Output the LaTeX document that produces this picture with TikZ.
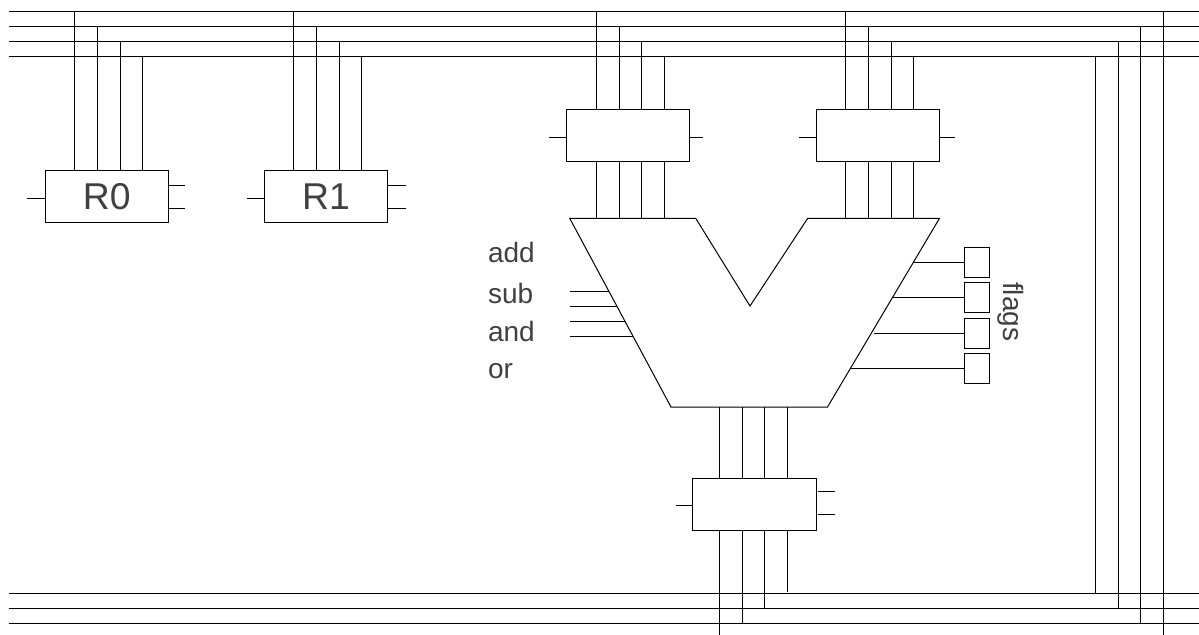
\documentclass[tikz,border=0pt]{standalone}
\usepackage{fontspec}
\setmainfont{Liberation Sans}
\definecolor{labelgray}{RGB}{64, 64, 64}
\tikzset{
	regbox/.style = {draw, rectangle, inner sep = 0pt, outer sep = 0pt, minimum width = 92.6pt, minimum height = 39.2pt, text = labelgray, font = \fontsize{28}{28}\selectfont},
	flagbox/.style = {draw, rectangle, inner sep = 0pt, outer sep = 0pt, minimum width = 18.4pt, minimum height = 22.5pt},
	oplabel/.style = {anchor = base west, inner sep = 0pt, text = labelgray, font = \fontsize{21}{21}\selectfont}
}

\begin{document}
\begin{tikzpicture}[x = 0.75pt, y = -0.75pt, line width = 0.75pt]
	\useasboundingbox (0,0) rectangle (1199,635);
	% boxes
	\node (r0) at (106.8,196.4) [regbox] {R0};
	\node (r1) at (326,196.4) [regbox] {R1};
	\node (la) at (628.2,135.8) [regbox] {};
	\node (lb) at (878,135.8) [regbox] {};
	\node (lc) at (754.5,504.6) [regbox] {};
	\node (f1) at (977,262.3) [flagbox] {};
	\node (f2) at (977,297.5) [flagbox] {};
	\node (f3) at (977,333) [flagbox] {};
	\node (f4) at (977,368.3) [flagbox] {};
	% labels
	\node (add) at (487.5,262.5) [oplabel] {add};
	\node (sub) at (487.5,303) [oplabel] {sub};
	\node (and) at (487.5,341.5) [oplabel] {and};
	\node (or) at (487.5,378.5) [oplabel] {or};
	\node (flags) at (1003.5,281.5) [oplabel, rotate = -90] {flags};
	% top bus
	\coordinate (t1l) at (9,11.3);
	\coordinate (t2l) at (9,26.3);
	\coordinate (t3l) at (9,41.3);
	\coordinate (t4l) at (9,56.7);
	\coordinate (t1r) at (1199,11.3);
	\coordinate (t2r) at (1199,26.3);
	\coordinate (t3r) at (1199,41.3);
	\coordinate (t4r) at (1199,56.7);
	\draw (t1l) -- (t1r);
	\draw (t2l) -- (t2r);
	\draw (t3l) -- (t3r);
	\draw (t4l) -- (t4r);
	% bottom bus
	\coordinate (b1l) at (9,593.7);
	\coordinate (b2l) at (9,608.5);
	\coordinate (b3l) at (9,623.5);
	\coordinate (b1r) at (1199,593.7);
	\coordinate (b2r) at (1199,608.5);
	\coordinate (b3r) at (1199,623.5);
	\draw (b1l) -- (b1r);
	\draw (b2l) -- (b2r);
	\draw (b3l) -- (b3r);
	% register R0
	\coordinate (r0a) at (74.7,12);
	\coordinate (r0b) at (97.3,27);
	\coordinate (r0c) at (120,42);
	\coordinate (r0d) at (142.7,57);
	\draw (r0a) -- (r0a |- r0.north);
	\draw (r0b) -- (r0b |- r0.north);
	\draw (r0c) -- (r0c |- r0.north);
	\draw (r0d) -- (r0d |- r0.north);
	\coordinate (r0in) at (27,198);
	\coordinate (r0o1) at (184.5,185.5);
	\coordinate (r0o2) at (184.5,208);
	\draw (r0in) -- (r0in -| r0.west);
	\draw (r0o1) -- (r0o1 -| r0.east);
	\draw (r0o2) -- (r0o2 -| r0.east);
	% register R1
	\coordinate (r1a) at (293.7,12);
	\coordinate (r1b) at (316.3,27);
	\coordinate (r1c) at (339,42);
	\coordinate (r1d) at (361.7,57);
	\draw (r1a) -- (r1a |- r1.north);
	\draw (r1b) -- (r1b |- r1.north);
	\draw (r1c) -- (r1c |- r1.north);
	\draw (r1d) -- (r1d |- r1.north);
	\coordinate (r1in) at (246.7,198);
	\coordinate (r1o1) at (406,185.5);
	\coordinate (r1o2) at (406,208);
	\draw (r1in) -- (r1in -| r1.west);
	\draw (r1o1) -- (r1o1 -| r1.east);
	\draw (r1o2) -- (r1o2 -| r1.east);
	% alu outline
	\coordinate (alu1) at (569.7,218.3);
	\coordinate (alu2) at (695.7,218.3);
	\coordinate (alu3) at (750,306);
	\coordinate (alu4) at (807.7,218.3);
	\coordinate (alu5) at (939.5,218.3);
	\coordinate (alu6) at (827.5,407);
	\coordinate (alu7) at (671,407);
	\draw (alu1) -- (alu2) -- (alu3) -- (alu4) -- (alu5) -- (alu6) -- (alu7) -- cycle;
	% latch A
	\coordinate (laa) at (596.3,12);
	\coordinate (lab) at (619,27);
	\coordinate (lac) at (641.5,42);
	\coordinate (lad) at (664.3,57);
	\draw (laa) -- (laa |- la.north);
	\draw (lab) -- (lab |- la.north);
	\draw (lac) -- (lac |- la.north);
	\draw (lad) -- (lad |- la.north);
	\draw (laa |- la.south) -- (laa |- alu1);
	\draw (lab |- la.south) -- (lab |- alu1);
	\draw (lac |- la.south) -- (lac |- alu1);
	\draw (lad |- la.south) -- (lad |- alu1);
	\coordinate (lain) at (549,137.3);
	\coordinate (laout) at (702.7,137.3);
	\draw (lain) -- (lain -| la.west);
	\draw (laout) -- (laout -| la.east);
	% latch B
	\coordinate (lba) at (845.7,12);
	\coordinate (lbb) at (868.3,27);
	\coordinate (lbc) at (891,42);
	\coordinate (lbd) at (913.7,57);
	\draw (lba) -- (lba |- lb.north);
	\draw (lbb) -- (lbb |- lb.north);
	\draw (lbc) -- (lbc |- lb.north);
	\draw (lbd) -- (lbd |- lb.north);
	\draw (lba |- lb.south) -- (lba |- alu1);
	\draw (lbb |- lb.south) -- (lbb |- alu1);
	\draw (lbc |- lb.south) -- (lbc |- alu1);
	\draw (lbd |- lb.south) -- (lbd |- alu1);
	\coordinate (lbin) at (799,137.3);
	\coordinate (lbout) at (955,137.3);
	\draw (lbin) -- (lbin -| lb.west);
	\draw (lbout) -- (lbout -| lb.east);
	% latch C
	\coordinate (lca) at (719.3,634.5);
	\coordinate (lcb) at (742,624);
	\coordinate (lcc) at (764.7,608.5);
	\coordinate (lcd) at (787.3,591.5);
	\draw (lca |- alu7) -- (lca |- lc.north);
	\draw (lcb |- alu7) -- (lcb |- lc.north);
	\draw (lcc |- alu7) -- (lcc |- lc.north);
	\draw (lcd |- alu7) -- (lcd |- lc.north);
	\draw (lca) -- (lca |- lc.south);
	\draw (lcb) -- (lcb |- lc.south);
	\draw (lcc) -- (lcc |- lc.south);
	\draw (lcd) -- (lcd |- lc.south);
	\coordinate (lcin) at (676,505);
	\coordinate (lco1) at (835,491.7);
	\coordinate (lco2) at (835,514.3);
	\draw (lcin) -- (lcin -| lc.west);
	\draw (lco1) -- ++(-17.3,0);
	\draw (lco2) -- ++(-17.3,0);
	% return lines
	\coordinate (ret1t) at (1095.3,57);
	\coordinate (ret2t) at (1118,42);
	\coordinate (ret3t) at (1140.5,27);
	\coordinate (ret4t) at (1163.3,12);
	\coordinate (ret1b) at (1095.3,593.7);
	\coordinate (ret2b) at (1118,608.5);
	\coordinate (ret3b) at (1140.5,623.5);
	\coordinate (ret4b) at (1163.3,634.5);
	\draw (ret1t) -- (ret1b);
	\draw (ret2t) -- (ret2b);
	\draw (ret3t) -- (ret3b);
	\draw (ret4t) -- (ret4b);
	% flag lines
	\coordinate (fl1) at (913,262.3);
	\coordinate (fl2) at (892.5,297.5);
	\coordinate (fl3) at (874,333);
	\coordinate (fl4) at (850,368.3);
	\draw (fl1) -- (f1.west);
	\draw (fl2) -- (f2.west);
	\draw (fl3) -- (f3.west);
	\draw (fl4) -- (f4.west);
	% opcode lines
	\coordinate (op1l) at (570,291);
	\coordinate (op2l) at (570,306.3);
	\coordinate (op3l) at (570,321);
	\coordinate (op4l) at (570,336.3);
	\coordinate (op1r) at (608.7,291);
	\coordinate (op2r) at (616.7,306.3);
	\coordinate (op3r) at (625,321);
	\coordinate (op4r) at (633,336.3);
	\draw (op1l) -- (op1r);
	\draw (op2l) -- (op2r);
	\draw (op3l) -- (op3r);
	\draw (op4l) -- (op4r);
\end{tikzpicture}
\end{document}
